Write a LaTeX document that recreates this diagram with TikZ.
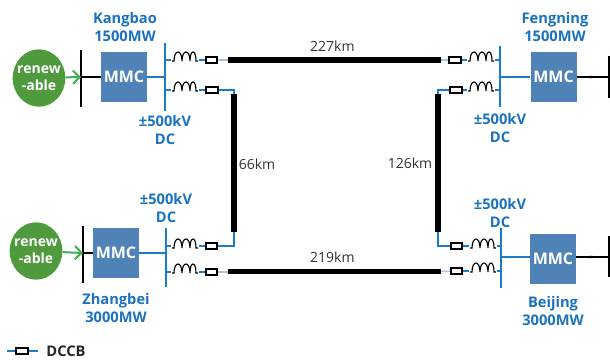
\documentclass[tikz,border=0pt]{standalone}
\usepackage{fontspec}
\setmainfont{Open Sans}
\usetikzlibrary{arrows.meta,shapes.geometric}
\definecolor{wire}{HTML}{1B7CCB}
\definecolor{lbl}{HTML}{1A72C0}
\definecolor{mmcfill}{HTML}{4F83B8}
\definecolor{green1}{HTML}{4E9A3C}
\definecolor{green2}{HTML}{3DB04F}
\definecolor{pale}{HTML}{A9C4E4}
\begin{document}
\begin{tikzpicture}[x=0.75pt,y=-0.75pt,
  mmc/.style={draw=none,fill=mmcfill,text=white,font=\bfseries\fontsize{12}{12}\selectfont,minimum width=34.5pt,minimum height=37pt,inner sep=0pt},
  src/.style={ellipse,fill=green1,minimum width=39.5pt,minimum height=43pt,inner sep=0pt},
  srctext/.style={text=white,font=\bfseries\fontsize{10.5}{12.5}\selectfont,align=center,inner sep=0pt},
  dccb/.style={draw=black,line width=1.5pt,fill=white,minimum width=8.5pt,minimum height=4.5pt,inner sep=0pt},
  station/.style={text=lbl,font=\bfseries\fontsize{11}{14.2}\selectfont,align=center,inner sep=0pt},
  dist/.style={text=black!80,font=\fontsize{10.5}{12}\selectfont,inner sep=0pt},
  wirel/.style={draw=wire,line width=0.9pt},
  pal/.style={draw=pale,line width=1.1pt},
  bluebus/.style={draw=wire,line width=1.6pt},
  blackbus/.style={draw=black,line width=0.9pt},
  acl/.style={draw=black,line width=0.9pt},
  cable/.style={draw=black,line width=4pt},
  feed/.style={draw=green2,line width=1.5pt,-{Straight Barb[length=5pt,width=10pt]}},
  coil/.pic={\draw[black,line width=0.85pt] (-13,3) -- (-11,3)
     .. controls (-11,-9) and (-3,-9) .. (-3,3)
     .. controls (-3,-9) and (5,-9) .. (5,3)
     .. controls (5,-9) and (11,-9) .. (11,3) -- (13,3);},
  mark/.pic={\draw[black,line width=0.5pt] (-3,1) -- (-1,-1) -- (0,1) -- (1,-1) -- (3,1);}
]
\useasboundingbox (0,0) rectangle (610,360);
% ---- nodes
\node[src] (s1) at (39,78) {};
\node[srctext] (s1t) at (39,78) {renew\\-able};
\node[src] (s2) at (36,251) {};
\node[srctext] (s2t) at (36,251) {renew\\-able};
\node[mmc] (m1) at (124,77) {MMC};
\node[mmc] (m2) at (553.5,77) {MMC};
\node[mmc,minimum height=37.5pt] (m3) at (116,253) {MMC};
\node[mmc,minimum height=38pt] (m4) at (553,259) {MMC};
\node[dccb] (b1) at (211.5,60) {};
\node[dccb] (b2) at (212,90) {};
\node[dccb] (b3) at (211.5,246) {};
\node[dccb] (b4) at (211.5,272) {};
\node[dccb] (b5) at (455,60) {};
\node[dccb] (b6) at (456,90) {};
\node[dccb] (b7) at (456.5,246) {};
\node[dccb] (b8) at (456.5,271) {};
\node[dccb] (bl) at (22,351) {};
% ---- bus and junction points
\coordinate (ac1a) at (81,50); \coordinate (ac1b) at (81,107); \coordinate (ac1) at (81,77);
\coordinate (ac2a) at (83,226); \coordinate (ac2b) at (83,283); \coordinate (ac2) at (83,253);
\coordinate (ac3a) at (609,56); \coordinate (ac3b) at (609,98); \coordinate (ac3) at (609,77);
\coordinate (ac4a) at (609,236); \coordinate (ac4b) at (609,277); \coordinate (ac4) at (609,257);
\coordinate (d1a) at (165,43); \coordinate (d1b) at (165,111);
\coordinate (d2a) at (166,228); \coordinate (d2b) at (166,287);
\coordinate (d3a) at (500,46); \coordinate (d3b) at (500,107);
\coordinate (d4a) at (501,228); \coordinate (d4b) at (501,288);
\coordinate (t1) at (228,60); \coordinate (t2) at (441,60);
\coordinate (t3) at (228,271.5); \coordinate (t4) at (441,271.5);
\coordinate (v1) at (234,94); \coordinate (v2) at (234,232);
\coordinate (v3) at (438,94); \coordinate (v4) at (438,232);
\coordinate (l1) at (7,351); \coordinate (l2) at (38,351);
% ---- buses
\draw[blackbus] (ac1a) -- (ac1b);
\draw[blackbus] (ac2a) -- (ac2b);
\draw[black,line width=1.3pt] (ac3a) -- (ac3b);
\draw[black,line width=1.3pt] (ac4a) -- (ac4b);
\draw[bluebus] (d1a) -- (d1b);
\draw[bluebus] (d2a) -- (d2b);
\draw[bluebus] (d3a) -- (d3b);
\draw[bluebus] (d4a) -- (d4b);
% ---- AC side
\draw[feed] (s1) -- (ac1);
\draw[feed] (s2) -- (ac2);
\draw[acl] (ac1) -- (m1);
\draw[acl] (ac2) -- (m3);
\draw[acl] (m2) -- (ac3);
\draw[acl] (ac4 -| m4.east) -- (ac4);
\pic at (591,77) {mark};
\pic at (591,257) {mark};
% ---- MMC to DC bus
\draw[wirel] (m1) -- (m1 -| d1a);
\draw[wirel] (m3) -- (m3 -| d2a);
\draw[wirel] (m2) -- (m2 -| d3a);
\draw[wirel] (ac4 -| m4.west) -- (ac4 -| d4a);
% ---- branches
\draw[wirel] (b1) -- (b1 -| d1a);
\draw[wirel] (b2) -- (b2 -| d1a);
\draw[wirel] (b3) -- (b3 -| d2a);
\draw[wirel] (b4) -- (b4 -| d2a);
\draw[wirel] (b5) -- (b5 -| d3a);
\draw[wirel] (b6) -- (b6 -| d3a);
\draw[wirel] (b7) -- (b7 -| d4a);
\draw[wirel] (b8) -- (b8 -| d4a);
\foreach \cx/\cy in {185/58,185/88,185/245,185/270,481/58,481/88,483/245,483/269}{
  \fill[white] (\cx-14,\cy-3) rectangle (\cx+14,\cy+5);
  \pic at (\cx,\cy) {coil};}
% ---- line stubs
\draw[pal] (b1) -- (t1);
\draw[pal] (b4) -- (b4 -| t3);
\draw[pal] (t2) -- (b5);
\draw[pal] (t4) -- (b8);
\draw[wirel] (b2.east) -| (v1);
\draw[wirel] (b3.east) -| (v2);
\draw[wirel] (b6.west) -| (v3);
\draw[wirel] (b7.west) -| (v4);
% re-draw breakers on top
\node[dccb] at (b1) {}; \node[dccb] at (b2) {}; \node[dccb] at (b3) {}; \node[dccb] at (b4) {};
\node[dccb] at (b5) {}; \node[dccb] at (b6) {}; \node[dccb] at (b7) {}; \node[dccb] at (b8) {};
% ---- cables
\draw[cable] (t1) -- node[dist,above=4.5pt,pos=0.49] (d227) {227km} (t2);
\draw[cable] (t3) -- node[dist,above=4.5pt,pos=0.49] (d219) {219km} (t4);
\draw[cable] (v1) -- (v2);
\draw[cable] (v3) -- (v4);
\node[dist] (d66) at (257,164) {66km};
\node[dist] (d126) at (410,163) {126km};
% ---- legend
\draw[wirel] (l1) -- (bl);
\draw[wirel] (bl) -- (l2);
\node[dccb] at (bl) {};
\node[font=\bfseries\fontsize{11}{12}\selectfont,text=black!85,inner sep=0pt] (ll) at (66,351) {DCCB};
% ---- labels
\node[station] (n1) at (125,27) {Kangbao\\1500MW};
\node[station] (n2) at (555,27) {Fengning\\1500MW};
\node[station] (n3) at (116,308) {Zhangbei\\3000MW};
\node[station] (n4) at (553,311) {Beijing\\3000MW};
\node[station] (k1) at (165,130) {±500kV\\DC};
\node[station] (k2) at (166,208) {±500kV\\DC};
\node[station] (k3) at (500,128) {±500kV\\DC};
\node[station] (k4) at (500,213) {±500kV\\DC};
\end{tikzpicture}
\end{document}
